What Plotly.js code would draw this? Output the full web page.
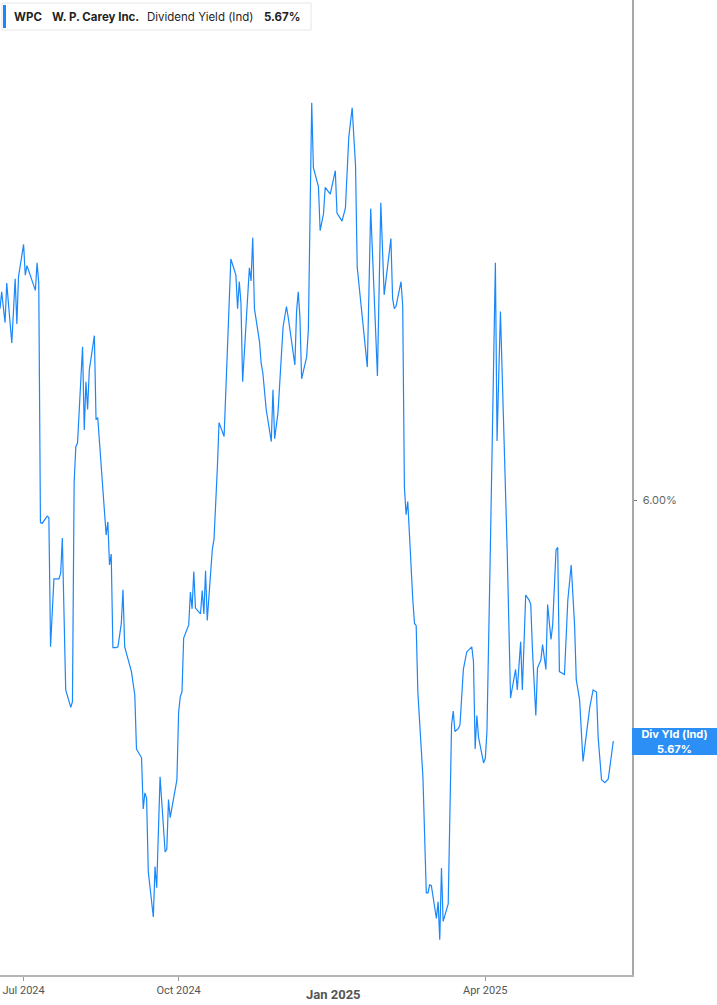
<!DOCTYPE html>
<html>
<head>
<meta charset="utf-8">
<script src="https://cdn.plot.ly/plotly-3.0.1.min.js"></script>
<style>
  html, body { margin: 0; padding: 0; background: #ffffff; }
  #chart { width: 717px; height: 1005px; }
</style>
</head>
<body>
<div id="chart"></div>
<script>
// ---- Data ----
const ticker = 'WPC';
const companyName = 'W. P. Carey Inc.';
const metricName = 'Dividend Yield (Ind)';
const tagLabel = 'Div Yld (Ind)';

const dates = [
  '2024-06-17','2024-06-18','2024-06-20','2024-06-21','2024-06-24','2024-06-26','2024-06-27','2024-06-28',
  '2024-07-01','2024-07-02','2024-07-03','2024-07-08','2024-07-09','2024-07-10','2024-07-11','2024-07-12',
  '2024-07-15','2024-07-16','2024-07-17','2024-07-19','2024-07-22','2024-07-23','2024-07-24','2024-07-26',
  '2024-07-29','2024-07-30','2024-07-31','2024-08-01','2024-08-02','2024-08-05','2024-08-06','2024-08-07',
  '2024-08-08','2024-08-09','2024-08-12','2024-08-13','2024-08-14','2024-08-19','2024-08-20','2024-08-21',
  '2024-08-22','2024-08-23','2024-08-25','2024-08-26','2024-08-28','2024-08-29','2024-08-30','2024-09-03',
  '2024-09-05','2024-09-06','2024-09-09','2024-09-10','2024-09-11','2024-09-12','2024-09-13','2024-09-16',
  '2024-09-17','2024-09-18','2024-09-20','2024-09-23','2024-09-24','2024-09-25','2024-09-26','2024-09-30',
  '2024-10-01','2024-10-02','2024-10-03','2024-10-04','2024-10-07','2024-10-08','2024-10-09','2024-10-10',
  '2024-10-11','2024-10-14','2024-10-15','2024-10-16','2024-10-17','2024-10-18','2024-10-21','2024-10-22',
  '2024-10-24','2024-10-25','2024-10-28','2024-11-01','2024-11-04','2024-11-05','2024-11-06','2024-11-07',
  '2024-11-08','2024-11-12','2024-11-13','2024-11-14','2024-11-15','2024-11-18','2024-11-19','2024-11-20',
  '2024-11-22','2024-11-25','2024-11-26','2024-11-27','2024-11-29','2024-12-02','2024-12-04','2024-12-05',
  '2024-12-09','2024-12-10','2024-12-11','2024-12-12','2024-12-13','2024-12-16','2024-12-17','2024-12-19',
  '2024-12-20','2024-12-23','2024-12-24','2024-12-26','2024-12-27','2024-12-30','2025-01-02','2025-01-03',
  '2025-01-06','2025-01-08','2025-01-10','2025-01-12','2025-01-14','2025-01-15','2025-01-21','2025-01-23',
  '2025-01-27','2025-01-29','2025-01-31','2025-02-04','2025-02-05','2025-02-06','2025-02-07','2025-02-10',
  '2025-02-11','2025-02-12','2025-02-13','2025-02-14','2025-02-17','2025-02-18','2025-02-19','2025-02-20',
  '2025-02-23','2025-02-25','2025-02-26','2025-02-27','2025-02-28','2025-03-03','2025-03-04','2025-03-05',
  '2025-03-06','2025-03-07','2025-03-10','2025-03-12','2025-03-13','2025-03-14','2025-03-16','2025-03-17',
  '2025-03-19','2025-03-21','2025-03-24','2025-03-25','2025-03-26','2025-03-27','2025-03-28','2025-03-31',
  '2025-04-01','2025-04-02','2025-04-04','2025-04-07','2025-04-08','2025-04-10','2025-04-14','2025-04-16',
  '2025-04-19','2025-04-20','2025-04-22','2025-04-23','2025-04-25','2025-04-27','2025-04-28','2025-04-29',
  '2025-05-01','2025-05-02','2025-05-04','2025-05-05','2025-05-07','2025-05-08','2025-05-10','2025-05-11',
  '2025-05-13','2025-05-14','2025-05-15','2025-05-18','2025-05-20','2025-05-22','2025-05-24','2025-05-25',
  '2025-05-27','2025-05-29','2025-05-31','2025-06-02','2025-06-04','2025-06-06','2025-06-07','2025-06-09',
  '2025-06-11','2025-06-13','2025-06-16'
];

const yieldPct = [
  6.262,6.285,6.243,6.297,6.215,6.303,6.241,6.306,
  6.350,6.308,6.321,6.287,6.325,6.297,5.969,5.968,
  5.978,5.976,5.799,5.892,5.892,5.900,5.948,5.740,
  5.716,5.724,6.024,6.073,6.078,6.210,6.096,6.162,
  6.124,6.178,6.225,6.110,6.113,5.952,5.970,5.911,
  5.926,5.798,5.798,5.799,5.831,5.877,5.799,5.765,
  5.733,5.659,5.647,5.577,5.599,5.592,5.491,5.429,
  5.498,5.469,5.621,5.518,5.522,5.590,5.565,5.617,
  5.709,5.731,5.737,5.811,5.829,5.874,5.851,5.902,
  5.852,5.844,5.876,5.844,5.903,5.835,5.932,5.946,
  6.044,6.106,6.087,6.330,6.308,6.262,6.299,6.270,
  6.162,6.318,6.300,6.359,6.262,6.217,6.187,6.174,
  6.124,6.080,6.151,6.084,6.120,6.237,6.265,6.251,
  6.185,6.258,6.285,6.251,6.166,6.196,6.233,6.544,
  6.455,6.429,6.369,6.392,6.428,6.419,6.451,6.393,
  6.382,6.400,6.497,6.537,6.458,6.319,6.182,6.399,
  6.170,6.407,6.281,6.358,6.276,6.262,6.265,6.299,
  6.266,6.018,5.980,5.998,5.863,5.831,5.828,5.736,
  5.621,5.462,5.462,5.473,5.472,5.427,5.450,5.398,
  5.496,5.423,5.447,5.692,5.711,5.683,5.687,5.692,
  5.768,5.792,5.799,5.779,5.659,5.705,5.675,5.640,
  5.646,5.683,5.932,6.325,6.081,6.258,5.932,5.729,
  5.768,5.740,5.806,5.740,5.870,5.863,5.857,5.795,
  5.705,5.770,5.781,5.802,5.768,5.857,5.809,5.829,
  5.932,5.935,5.765,5.761,5.863,5.911,5.829,5.754,
  5.726,5.642,5.679,5.716,5.740,5.737,5.675,5.617,
  5.613,5.618,5.670
];

const xTickDates = ['2024-07-01', '2024-10-01', '2025-04-01'];
const xTickLabels = ['Jul 2024', 'Oct 2024', 'Apr 2025'];
const yearTickDate = '2025-01-01';
const yearTickLabel = 'Jan 2025';
const yTickVals = [6.0];
const yTickLabels = ['6.00%'];

// ---- Chart ----
const lineColor = '#1a87fb';
const tagColor = '#2b8ff5';
const lastVal = yieldPct[yieldPct.length - 1];
const lastTxt = lastVal.toFixed(2) + '%';

// pixel helpers for paper coordinates (plot area is 632 x 975 px)
const PW = 632, PH = 975;
const px = v => v / PW;
const py = v => 1 - v / PH;

const trace = {
  x: dates,
  y: yieldPct,
  type: 'scatter',
  mode: 'lines',
  line: { color: lineColor, width: 1.2 },
  hoverinfo: 'x+y',
  showlegend: false
};

const legendFont = { family: 'Inter, "Noto Sans", sans-serif', size: 11.5, color: '#1f1f1f' };

const layout = {
  width: 717,
  height: 1005,
  margin: { l: 0, r: 85, t: 0, b: 30, pad: 0 },
  paper_bgcolor: '#ffffff',
  plot_bgcolor: '#ffffff',
  showlegend: false,
  xaxis: {
    type: 'date',
    range: ['2024-06-17', '2025-06-27 02:00'],
    tickvals: xTickDates,
    ticktext: xTickLabels,
    ticks: 'outside',
    ticklen: 4,
    tickwidth: 1,
    tickcolor: '#9a9a9a',
    showgrid: false,
    zeroline: false,
    showline: true,
    linecolor: '#b4b4b4',
    linewidth: 2,
    tickfont: { family: 'Roboto, sans-serif', size: 11, color: '#555555' },
    fixedrange: true
  },
  yaxis: {
    side: 'right',
    range: [5.3496, 6.6847],
    tickvals: yTickVals,
    ticktext: yTickLabels,
    ticks: 'outside',
    ticklen: 3,
    tickwidth: 1,
    tickcolor: '#777777',
    showgrid: false,
    zeroline: false,
    showline: true,
    linecolor: '#a8a8a8',
    linewidth: 1.5,
    tickfont: { family: 'Inter, sans-serif', size: 11, color: '#666666' },
    ticklabelstandoff: 4,
    fixedrange: true
  },
  shapes: [
    { type: 'rect', xref: 'paper', yref: 'paper',
      x0: px(2), x1: px(311), y0: py(30), y1: py(3),
      line: { color: '#e6e6e6', width: 1 }, fillcolor: '#ffffff', layer: 'above' },
    { type: 'rect', xref: 'paper', yref: 'paper',
      x0: px(3), x1: px(6), y0: py(28), y1: py(5),
      line: { width: 0 }, fillcolor: lineColor, layer: 'above' }
  ],
  annotations: [
    { xref: 'paper', yref: 'paper', x: px(12), y: py(17), xanchor: 'left', yanchor: 'middle',
      text: '<b>' + ticker + '</b>', showarrow: false, font: legendFont },
    { xref: 'paper', yref: 'paper', x: px(50), y: py(17), xanchor: 'left', yanchor: 'middle',
      text: '<b>' + companyName + '</b>', showarrow: false, font: legendFont },
    { xref: 'paper', yref: 'paper', x: px(145), y: py(17), xanchor: 'left', yanchor: 'middle',
      text: metricName, showarrow: false, font: legendFont },
    { xref: 'paper', yref: 'paper', x: px(262), y: py(17), xanchor: 'left', yanchor: 'middle',
      text: '<b>' + lastTxt + '</b>', showarrow: false, font: legendFont },
    { xref: 'x', yref: 'paper', x: yearTickDate, y: py(995), xanchor: 'center', yanchor: 'middle',
      text: '<b>' + yearTickLabel + '</b>', showarrow: false,
      font: { family: 'Roboto, sans-serif', size: 13, color: '#555555' } },
    { xref: 'paper', yref: 'y', x: 1, y: lastVal, xanchor: 'left', yanchor: 'middle',
      text: '<b>' + tagLabel + '<br>' + lastTxt + '</b>', showarrow: false,
      width: 83, height: 25, align: 'center', valign: 'middle',
      bgcolor: tagColor, borderpad: 1, borderwidth: 0,
      font: { family: 'Inter, sans-serif', size: 11, color: '#ffffff' } }
  ]
};

Plotly.newPlot('chart', [trace], layout, { staticPlot: true, displayModeBar: false });
</script>
</body>
</html>
